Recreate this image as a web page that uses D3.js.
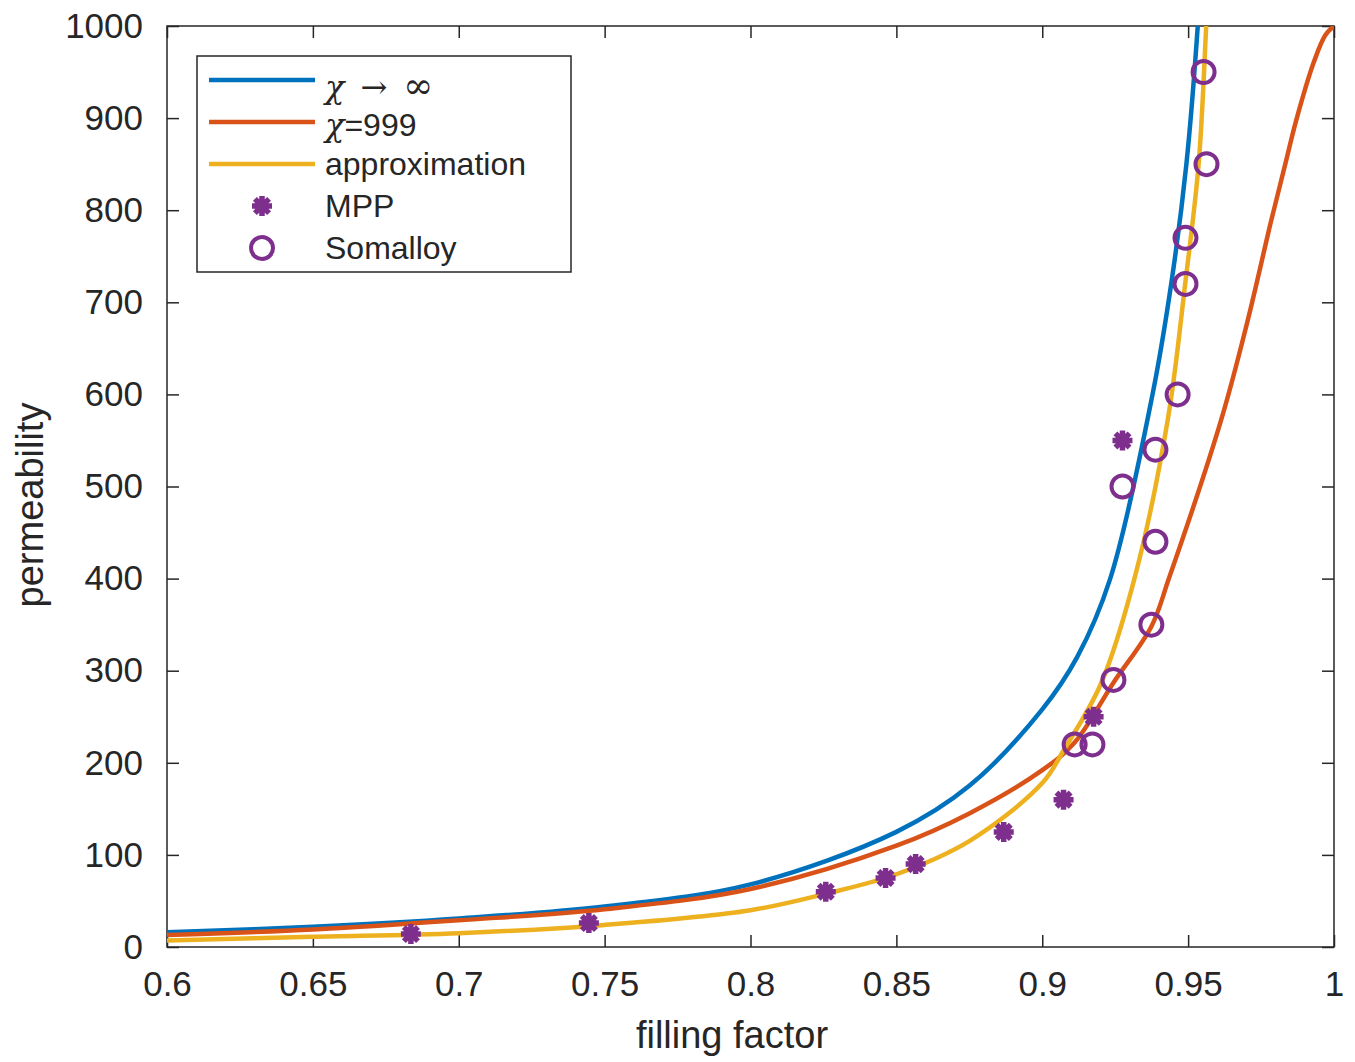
<!DOCTYPE html>
<html>
<head>
<meta charset="utf-8">
<script src="https://cdn.jsdelivr.net/npm/d3@7"></script>
<style>
  body { margin: 0; background: #fff; }
  text { font-family: "Liberation Sans", Arial, sans-serif; fill: #262626; }
</style>
</head>
<body>
<div id="chart"></div>
<script>
// curve values
var blueF  = [0.6, 0.65, 0.7, 0.75, 0.8, 0.85, 0.875, 0.9, 0.912, 0.9233, 0.9378, 0.9442, 0.9494, 0.9533, 0.956];
var blueMu = [16, 22, 31, 44, 68, 125, 175, 258, 315, 400, 600, 720, 850, 1000, 1150];

var orangeF  = [0.6, 0.65, 0.7, 0.75, 0.8, 0.85, 0.875, 0.9, 0.9111, 0.9244, 0.9374, 0.9434, 0.9613, 0.9704, 0.9785, 0.9833, 0.987, 0.993, 0.997, 1.0];
var orangeMu = [13, 19, 29, 41, 63, 110, 145, 192, 222, 287, 348, 400, 572, 680, 789, 850, 897, 960, 990, 1000];

var yellowF  = [0.6, 0.65, 0.7, 0.75, 0.8, 0.826, 0.85, 0.875, 0.9, 0.9076, 0.92, 0.9316, 0.943, 0.9491, 0.9536, 0.9562, 0.958];
var yellowMu = [7, 11, 15, 24, 40, 58, 79, 115, 178, 215, 285, 400, 572, 723, 850, 1000, 1120];

var mppF  = [0.6836, 0.7446, 0.8258, 0.8463, 0.8566, 0.8868, 0.9073, 0.9176, 0.9275];
var mppMu = [14, 26, 60, 75, 90, 125, 160, 250, 550];

var somF  = [0.9553, 0.9563, 0.9491, 0.9491, 0.9464, 0.9388, 0.9275, 0.9388, 0.9374, 0.9244, 0.9111, 0.9172];
var somMu = [950, 850, 770, 720, 600, 540, 500, 440, 350, 290, 220, 220];

var xTicks = [0.6, 0.65, 0.7, 0.75, 0.8, 0.85, 0.9, 0.95, 1];
var yTicks = [0, 100, 200, 300, 400, 500, 600, 700, 800, 900, 1000];

var W = 1355, H = 1062;
var margin = {top: 26, right: 21, bottom: 115, left: 167};
var width = W - margin.left - margin.right,
    height = H - margin.top - margin.bottom;

var colBlue = "#0072BD", colOrange = "#D95319", colYellow = "#EDB120", colPurple = "#7E2F8E";

var svg = d3.select("#chart").append("svg")
    .attr("width", W).attr("height", H);

var g = svg.append("g")
    .attr("transform", "translate(" + margin.left + "," + margin.top + ")");

var x = d3.scaleLinear().domain([0.6, 1]).range([0, width]);
var y = d3.scaleLinear().domain([0, 1000]).range([height, 0]);

g.append("clipPath").attr("id", "clip")
  .append("rect").attr("width", width).attr("height", height);

// axes (ticks pointing inward on all four sides)
var axisColor = "#262626";
function styleAxis(sel) {
  sel.select(".domain").remove();
  sel.selectAll("line").attr("stroke", axisColor).attr("stroke-width", 1.5);
  sel.selectAll("text").style("font-size", "35px").attr("fill", axisColor);
}

g.append("g")
  .attr("transform", "translate(0," + height + ")")
  .call(d3.axisBottom(x).tickValues(xTicks).tickFormat(d3.format("")).tickSize(-12).tickPadding(24))
  .call(styleAxis);
g.append("g")
  .call(d3.axisTop(x).tickValues(xTicks).tickFormat("").tickSize(-12))
  .call(styleAxis);
g.append("g")
  .call(d3.axisLeft(y).tickValues(yTicks).tickFormat(d3.format("d")).tickSize(-12).tickPadding(24))
  .call(styleAxis);
g.append("g")
  .attr("transform", "translate(" + width + ",0)")
  .call(d3.axisRight(y).tickValues(yTicks).tickFormat("").tickSize(-12))
  .call(styleAxis);

g.append("rect")
  .attr("width", width).attr("height", height)
  .attr("fill", "none").attr("stroke", axisColor).attr("stroke-width", 1.5);

// curves
var line = d3.line()
    .x(function(d) { return x(d[0]); })
    .y(function(d) { return y(d[1]); })
    .curve(d3.curveCatmullRom.alpha(0.5));

var curves = [
  {f: blueF, mu: blueMu, color: colBlue},
  {f: orangeF, mu: orangeMu, color: colOrange},
  {f: yellowF, mu: yellowMu, color: colYellow}
];

var plot = g.append("g").attr("clip-path", "url(#clip)");
curves.forEach(function(c) {
  plot.append("path")
    .datum(d3.zip(c.f, c.mu))
    .attr("d", line)
    .attr("fill", "none")
    .attr("stroke", c.color)
    .attr("stroke-width", 4.5);
});

// MATLAB-like '*' marker: plus and cross
function starPath(r) {
  var k = r * Math.SQRT1_2;
  return "M" + (-r) + ",0L" + r + ",0M0," + (-r) + "L0," + r +
         "M" + (-k) + "," + (-k) + "L" + k + "," + k +
         "M" + (-k) + "," + k + "L" + k + "," + (-k);
}

g.selectAll(".mpp")
  .data(d3.zip(mppF, mppMu))
  .enter().append("path")
  .attr("class", "mpp")
  .attr("transform", function(d) { return "translate(" + x(d[0]) + "," + y(d[1]) + ")"; })
  .attr("d", starPath(10))
  .attr("stroke", colPurple)
  .attr("stroke-width", 5.5)
  .attr("fill", "none");

g.selectAll(".som")
  .data(d3.zip(somF, somMu))
  .enter().append("circle")
  .attr("class", "som")
  .attr("cx", function(d) { return x(d[0]); })
  .attr("cy", function(d) { return y(d[1]); })
  .attr("r", 11)
  .attr("fill", "none")
  .attr("stroke", colPurple)
  .attr("stroke-width", 4);

// axis labels
svg.append("text")
  .attr("x", 732).attr("y", 1048)
  .attr("text-anchor", "middle")
  .style("font-size", "38px")
  .text("filling factor");

svg.append("text")
  .attr("transform", "translate(43,505) rotate(-90)")
  .attr("text-anchor", "middle")
  .style("font-size", "38px")
  .text("permeability");

// legend
var leg = svg.append("g").attr("transform", "translate(197,56)");
leg.append("rect")
  .attr("width", 374).attr("height", 216)
  .attr("fill", "#fff").attr("stroke", "#262626").attr("stroke-width", 1.5);

var rows = [0, 1, 2, 3, 4].map(function(i) { return 24 + i * 42; });

[colBlue, colOrange, colYellow].forEach(function(c, i) {
  leg.append("line")
    .attr("x1", 12).attr("x2", 118)
    .attr("y1", rows[i]).attr("y2", rows[i])
    .attr("stroke", c).attr("stroke-width", 4.5);
});

leg.append("path")
  .attr("transform", "translate(65," + rows[3] + ")")
  .attr("d", starPath(10))
  .attr("stroke", colPurple).attr("stroke-width", 5.5).attr("fill", "none");
leg.append("circle")
  .attr("cx", 65).attr("cy", rows[4]).attr("r", 11)
  .attr("fill", "none").attr("stroke", colPurple).attr("stroke-width", 4);

var t0 = leg.append("text").attr("x", 128).attr("y", rows[0] + 18).style("font-size", "32px").attr("fill", "#000");
t0.append("tspan").style("font-family", "DejaVu Serif").style("font-style", "italic").text("χ");
t0.append("tspan").style("font-family", "DejaVu Serif").attr("dx", 16).text("→");
t0.append("tspan").style("font-family", "DejaVu Serif").style("font-size", "36px").attr("dx", 16).text("∞");

var t1 = leg.append("text").attr("x", 128).attr("y", rows[1] + 14).style("font-size", "32px").attr("fill", "#000");
t1.append("tspan").style("font-family", "DejaVu Serif").style("font-style", "italic").text("χ");
t1.append("tspan").text("=999");

["approximation", "MPP", "Somalloy"].forEach(function(s, i) {
  leg.append("text")
    .attr("x", 128).attr("y", rows[i + 2] + 11)
    .style("font-size", "32px").attr("fill", "#000")
    .text(s);
});
</script>
</body>
</html>
